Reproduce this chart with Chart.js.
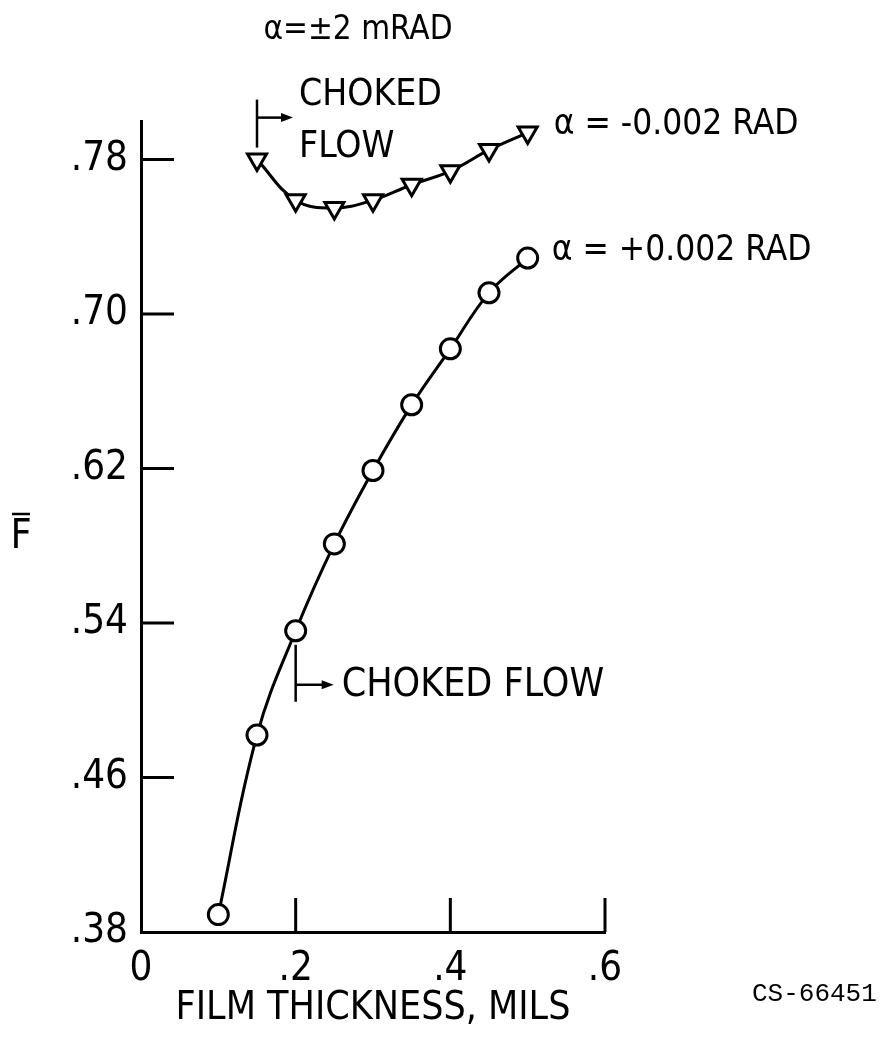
<!DOCTYPE html>
<html>
<head>
<meta charset="utf-8">
<script src="https://cdn.jsdelivr.net/npm/chart.js@4.4.1/dist/chart.umd.min.js"></script>
<style>
	html, body { margin: 0; padding: 0; background: #fff; }
	canvas { display: block; }
</style>
</head>
<body>
<canvas id="filmChart" width="887" height="1038"></canvas>
<script>
	// values
	const thicknessPlus = [0.10, 0.15, 0.20, 0.25, 0.30, 0.35, 0.40, 0.45, 0.50];
	const forcePlus = [0.389, 0.482, 0.536, 0.581, 0.619, 0.653, 0.682, 0.711, 0.729];
	const thicknessMinus = [0.15, 0.20, 0.25, 0.30, 0.35, 0.40, 0.45, 0.50];
	const forceMinus = [0.780, 0.759, 0.755, 0.759, 0.767, 0.774, 0.785, 0.794];
	const xTicks = [0, 0.2, 0.4, 0.6];
	const yTicks = [0.38, 0.46, 0.54, 0.62, 0.70, 0.78];

	const FONT = "'Liberation Sans Narrow', 'DejaVu Sans Condensed', 'Arial Narrow', sans-serif";

	const toPoints = (xs, ys) => xs.map((x, i) => ({ x, y: ys[i] }));

	function arrow(ctx, x1, y, x2) {
		ctx.beginPath();
		ctx.moveTo(x1, y);
		ctx.lineTo(x2 - 8, y);
		ctx.stroke();
		ctx.beginPath();
		ctx.moveTo(x2, y);
		ctx.lineTo(x2 - 12, y - 4.5);
		ctx.lineTo(x2 - 12, y + 4.5);
		ctx.closePath();
		ctx.fill();
	}

	const annotations = {
		id: "annotations",
		afterDraw(chart) {
			const { ctx, scales: { x, y }, chartArea } = chart;
			ctx.save();
			ctx.strokeStyle = "#000";
			ctx.fillStyle = "#000";
			ctx.lineWidth = 3;

			// inward tick marks
			yTicks.slice(1).forEach(v => {
				const py = y.getPixelForValue(v);
				ctx.beginPath();
				ctx.moveTo(chartArea.left, py);
				ctx.lineTo(chartArea.left + 33, py);
				ctx.stroke();
			});
			xTicks.slice(1).forEach(v => {
				const px = x.getPixelForValue(v);
				ctx.beginPath();
				ctx.moveTo(px, chartArea.bottom);
				ctx.lineTo(px, chartArea.bottom - 34);
				ctx.stroke();
			});

			ctx.textBaseline = "middle";
			ctx.textAlign = "left";

			// choked flow markers
			ctx.lineWidth = 2.5;
			const ux = x.getPixelForValue(thicknessMinus[0]);
			const uy = y.getPixelForValue(forceMinus[0]);
			ctx.beginPath();
			ctx.moveTo(ux, uy - 12);
			ctx.lineTo(ux, uy - 60);
			ctx.stroke();
			arrow(ctx, ux, uy - 42, ux + 36);
			ctx.font = "37px " + FONT;
			ctx.fillText("CHOKED", ux + 42, uy - 64);
			ctx.fillText("FLOW", ux + 42, uy - 12);

			const lx = x.getPixelForValue(thicknessPlus[2]);
			const ly = y.getPixelForValue(forcePlus[2]);
			ctx.beginPath();
			ctx.moveTo(lx, ly + 14);
			ctx.lineTo(lx, ly + 71);
			ctx.stroke();
			arrow(ctx, lx, ly + 54, lx + 38);
			ctx.font = "39px " + FONT;
			ctx.fillText("CHOKED FLOW", lx + 46, ly + 55);

			// series labels
			ctx.font = "35px " + FONT;
			const mx = x.getPixelForValue(thicknessMinus[thicknessMinus.length - 1]);
			const my = y.getPixelForValue(forceMinus[forceMinus.length - 1]);
			ctx.fillText("\u03b1 = -0.002 RAD", mx + 26, my - 8);
			const px = x.getPixelForValue(thicknessPlus[thicknessPlus.length - 1]);
			const py = y.getPixelForValue(forcePlus[forcePlus.length - 1]);
			ctx.fillText("\u03b1 = +0.002 RAD", px + 24, py - 7);

			// heading
			ctx.font = "33px " + FONT;
			ctx.textAlign = "center";
			ctx.fillText("\u03b1=\u00b12 mRAD", 358, 30);

			// y axis symbol (F with overbar)
			ctx.font = "41px " + FONT;
			ctx.fillText("F", 21, 537);
			ctx.lineWidth = 2.5;
			ctx.beginPath();
			ctx.moveTo(12, 514);
			ctx.lineTo(30, 514);
			ctx.stroke();

			// figure number
			ctx.font = "26px 'Liberation Mono', monospace";
			ctx.textAlign = "left";
			ctx.fillText("CS-66451", 752, 994);
			ctx.restore();
		}
	};

	new Chart(document.getElementById("filmChart"), {
		type: "line",
		data: {
			datasets: [
				{
					label: "\u03b1 = +0.002 RAD",
					data: toPoints(thicknessPlus, forcePlus),
					borderColor: "#000",
					borderWidth: 3,
					tension: 0.4,
					pointStyle: "circle",
					pointRadius: 10,
					pointBorderWidth: 3,
					pointBackgroundColor: "#fff",
					pointBorderColor: "#000",
					clip: false
				},
				{
					label: "\u03b1 = -0.002 RAD",
					data: toPoints(thicknessMinus, forceMinus),
					borderColor: "#000",
					borderWidth: 3,
					tension: 0.4,
					pointStyle: "triangle",
					rotation: 180,
					pointRadius: 11,
					pointBorderWidth: 3,
					pointBackgroundColor: "#fff",
					pointBorderColor: "#000",
					clip: false
				}
			]
		},
		options: {
			responsive: false,
			animation: false,
			layout: { padding: { top: 121, right: 282, left: 0, bottom: 0 } },
			plugins: {
				legend: { display: false },
				tooltip: { enabled: false }
			},
			scales: {
				x: {
					type: "linear",
					min: 0,
					max: 0.6,
					afterBuildTicks: s => { s.ticks = xTicks.map(v => ({ value: v })); },
					afterFit: s => { s.height = 106; },
					grid: { display: false, drawTicks: false },
					border: { display: true, color: "#000", width: 3 },
					ticks: {
						color: "#000",
						padding: 14,
						maxRotation: 0,
						font: { family: FONT, size: 40 },
						callback: v => v === 0 ? "0" : String(v).replace(/^0/, "")
					},
					title: {
						display: true,
						text: "FILM THICKNESS, MILS",
						color: "#000",
						font: { family: FONT, size: 39, lineHeight: 1 },
						padding: { top: 0, bottom: 10 }
					}
				},
				y: {
					type: "linear",
					min: 0.38,
					max: 0.80,
					afterBuildTicks: s => { s.ticks = yTicks.map(v => ({ value: v })); },
					afterFit: s => { s.width = 141; },
					grid: { display: false, drawTicks: false },
					border: { display: true, color: "#000", width: 3 },
					ticks: {
						color: "#000",
						padding: 13,
						font: { family: FONT, size: 40 },
						callback: v => v.toFixed(2).replace(/^0/, "")
					}
				}
			}
		},
		plugins: [annotations]
	});
</script>
</body>
</html>
